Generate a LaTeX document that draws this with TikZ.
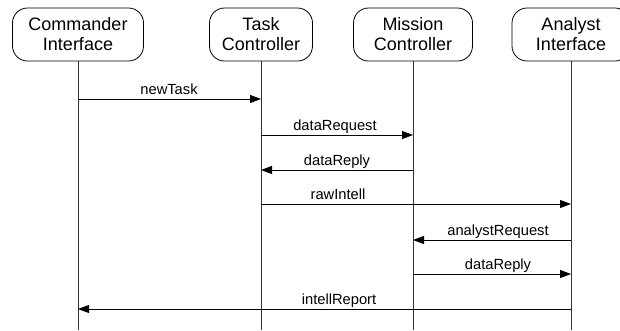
\documentclass[tikz,border=0pt]{standalone}
\usepackage{fontspec}
\setmainfont{Liberation Sans}
\usetikzlibrary{arrows.meta}

\tikzset{
  lifebox/.style={draw, line width=0.8pt, rounded corners=15pt, minimum height=53pt,
    inner sep=0pt, align=center, font=\fontsize{18}{20}\selectfont},
  lifeline/.style={draw=black!80, line width=0.8pt},
  msg/.style={line width=0.8pt, -{Triangle[length=11pt,width=8pt]}},
  msglabel/.style={anchor=base, yshift=5pt, font=\fontsize{14.7}{17}\selectfont}
}

\begin{document}
\begin{tikzpicture}[x=1pt, y=-1pt]
  \useasboundingbox (0,0) rectangle (620,330);
  \node[lifebox, minimum width=131pt] (CI) at (78,34.5) {Commander\\Interface};
  \node[lifebox, minimum width=103pt] (TC) at (261,34.5) {Task\\Controller};
  \node[lifebox, minimum width=119pt] (MC) at (413,34.5) {Mission\\Controller};
  \node[lifebox, minimum width=118pt] (AI) at (571,34.5) {Analyst\\Interface};
  \foreach \n in {CI,TC,MC,AI} {
    \coordinate (\n-end) at (\n |- 0,330);
    \draw[lifeline] (\n.south) -- (\n-end);
  }
  \foreach \y/\a/\b/\lx/\txt in {99/CI/TC/169/newTask, 135/TC/MC/335/dataRequest,
      170/MC/TC/337/dataReply, 204/TC/AI/338/rawIntell, 240/AI/MC/498/analystRequest,
      274/MC/AI/498/dataReply, 309/AI/CI/339/intellReport} {
    \draw[msg] (\a |- 0,\y) -- (\b |- 0,\y);
    \node[msglabel] at (\lx,\y) {\txt};
  }
\end{tikzpicture}
\end{document}
